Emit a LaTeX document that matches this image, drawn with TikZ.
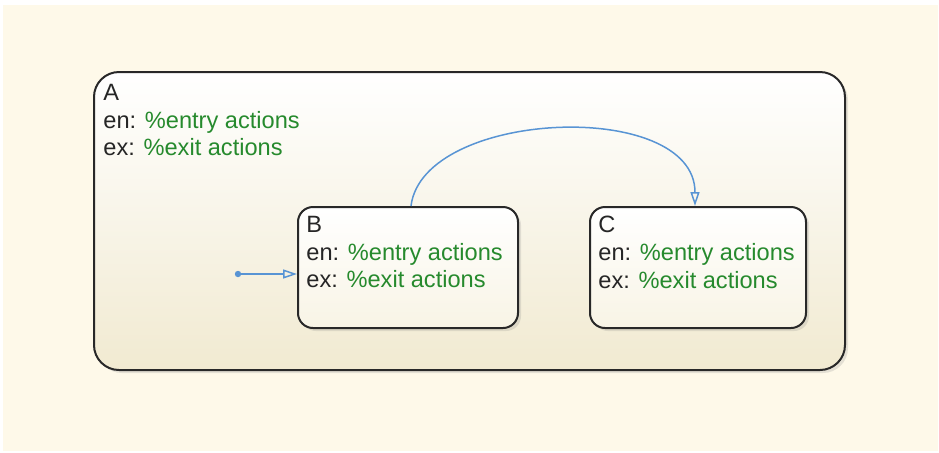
\documentclass[tikz,border=0pt]{standalone}
\usepackage{fontspec}
\setmainfont{Liberation Sans}
\usetikzlibrary{arrows.meta,shadows,positioning}

\definecolor{chartbg}{RGB}{254,249,233}
\definecolor{outerfill}{RGB}{241,234,209}
\definecolor{innerfill}{RGB}{248,244,229}
\definecolor{actgreen}{RGB}{38,138,45}
\definecolor{transblue}{RGB}{88,148,212}
\definecolor{edgegray}{RGB}{40,40,40}

\newcommand{\actions}[1]{#1\\en: \textcolor{actgreen}{\%entry actions}\\ex: \textcolor{actgreen}{\%exit actions}}

\tikzset{
  statebox/.style={draw=edgegray, line width=1pt, rectangle,
    top color=white, drop shadow={shadow xshift=1.5pt, shadow yshift=-1.5pt, opacity=0.2}},
  statetext/.style={anchor=north west, inner sep=0pt, align=left, text=black!85,
    font=\fontsize{11.8}{13.8}\selectfont},
  trans/.style={draw=transblue, line width=0.75pt,
    -{Triangle[open, length=7pt, width=4.5pt]}}
}

\begin{document}
\begin{tikzpicture}[x=0.5pt, y=-0.5pt]
  \useasboundingbox (0,0) rectangle (939,452);
  \fill[chartbg] (3,5) rectangle (938,451);
  \node[statebox, bottom color=outerfill, rounded corners=12.5pt,
    minimum width=375.5pt, minimum height=149pt] (A) at (469.5,221) {};
  \node[statebox, bottom color=innerfill, rounded corners=7.5pt,
    minimum width=110pt, minimum height=60.5pt] (B) at (408,267.5) {};
  \node[statebox, bottom color=innerfill, rounded corners=7.5pt,
    minimum width=108pt, minimum height=60.5pt] (C) at (698,267.5) {};
  \node[statetext] (Atext) at ([xshift=5pt, yshift=-6.5pt]A.north west) {\actions{A}};
  \node[statetext] (Btext) at ([xshift=4.5pt, yshift=-5pt]B.north west) {\actions{B}};
  \node[statetext] (Ctext) at ([xshift=4.5pt, yshift=-5pt]C.north west) {\actions{C}};
  \coordinate (init) at (238,274);
  \fill[transblue] (init) circle (1.6pt);
  \draw[trans] (init) -- (B.west |- init);
  \draw[trans] ([xshift=1.5pt]B.north) .. controls +(12,-97) and +(0,-108) .. ([xshift=-1.5pt]C.north);
\end{tikzpicture}
\end{document}
